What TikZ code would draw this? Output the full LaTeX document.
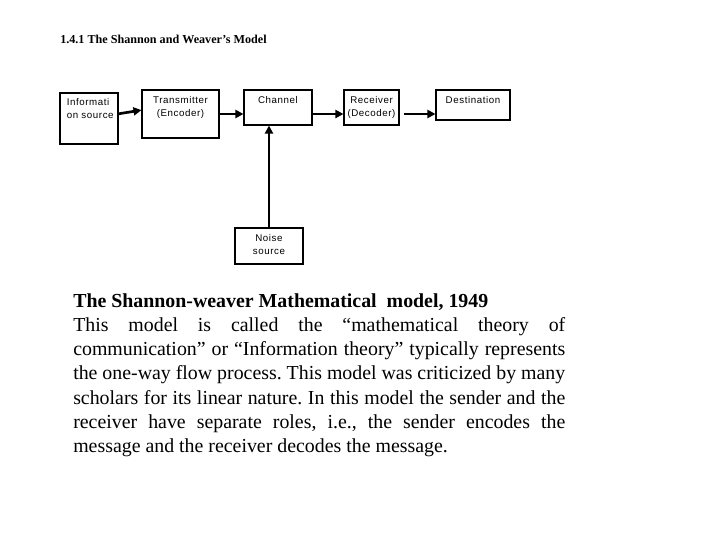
\documentclass[tikz,border=0pt]{standalone}
\usepackage{fontspec}
\setmainfont{Liberation Serif}
\newfontfamily\lblfont[LetterSpace=6]{Liberation Sans}
\usetikzlibrary{arrows.meta,calc}
\begin{document}
\begin{tikzpicture}[x=0.75pt,y=-0.75pt,
  box/.style={draw,line width=0.8pt,inner sep=0pt},
  lbl/.style={inner sep=0pt,font=\lblfont\fontsize{7.3}{9.75}\selectfont,align=center},
  conn/.style={line width=2pt,-{Triangle[length=6pt,width=6pt]}}]
\useasboundingbox[fill=white] (0,0) rectangle (720,540);
% title
\node[inner sep=0pt,anchor=north west,font=\bfseries\fontsize{9.1}{11}\selectfont] (title) at (60,35) {1.4.1 The Shannon and Weaver's Model};
% boxes
\node[box,minimum width=43.5pt,minimum height=38.25pt] (info) at (89,118.5) {};
\node[box,minimum width=57.75pt,minimum height=36pt] (trans) at (180.5,114) {};
\node[box,minimum width=51pt,minimum height=26.25pt] (chan) at (278,107.5) {};
\node[box,minimum width=41.25pt,minimum height=26.25pt] (recv) at (371.5,107.5) {};
\node[box,minimum width=55.5pt,minimum height=22.5pt] (dest) at (473,105) {};
\node[box,minimum width=51pt,minimum height=27pt] (noise) at (269,246) {};
% labels
\node[lbl,align=left,anchor=north west] (infol) at ([xshift=5.3pt,yshift=-4.6pt]info.north west) {Informati\\on source};
\node[lbl,anchor=north] (transl) at ([yshift=-4.9pt]trans.north) {Transmitter\\(Encoder)};
\node[lbl,anchor=north] (chanl) at ([yshift=-4.9pt]chan.north) {Channel};
\node[lbl,anchor=north] (recvl) at ([yshift=-4.9pt]recv.north) {Receiver\\(Decoder)};
\node[lbl,anchor=north] (destl) at ([yshift=-4.9pt]dest.north) {Destination};
\node[lbl,anchor=north] (noisel) at ([yshift=-5.2pt]noise.north) {Noise\\source};
% connectors
\draw[conn] ($(info.north east)!0.41!(info.south east)$) -- ($(trans.north west)!0.42!(trans.south west)$);
\draw[conn] (trans.east) -- (chan.west |- trans.east);
\draw[conn] (chan.east |- trans.east) -- (recv.west |- trans.east);
\draw[conn] ([xshift=3pt]recv.east |- trans.east) -- (dest.west |- trans.east);
\draw[conn] (noise.north) -- (noise.north |- chan.south);
% description
\node[inner sep=0pt,anchor=north west] (desc) at (73,293) {\parbox{369pt}{\fontsize{14.9}{18.2}\selectfont\frenchspacing\hyphenpenalty=10000\exhyphenpenalty=10000
\textbf{The Shannon-weaver Mathematical\ \ model, 1949}\\
This model is called the “mathematical theory of\linebreak
communication” or “Information theory” typically represents\linebreak
the one-way flow process. This model was criticized by many\linebreak
scholars for its linear nature. In this model the sender and the\linebreak
receiver have separate roles, i.e., the sender encodes the\linebreak
message and the receiver decodes the message.}};
\end{tikzpicture}
\end{document}
